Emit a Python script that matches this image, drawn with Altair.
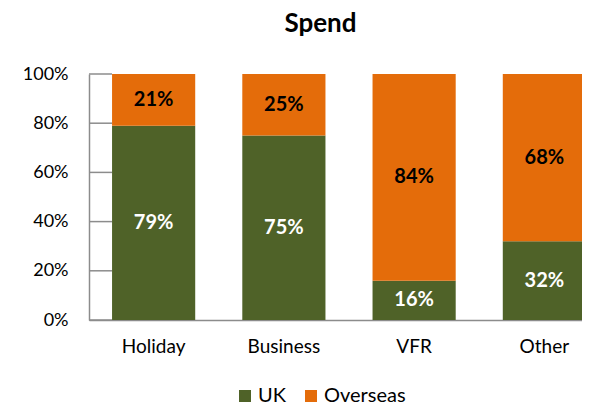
import altair as alt
import pandas as pd

categories = ["Holiday", "Business", "VFR", "Other"]
series_names = ["UK", "Overseas"]
uk_values = [79, 75, 16, 32]
overseas_values = [21, 25, 84, 68]
tick_values = [0, 20, 40, 60, 80, 100]

GREEN = "#4F6228"
ORANGE = "#E46C0A"
AXIS_GRAY = "#8C8C8C"
FONT = "Lato"

rows = []
for c, u, o in zip(categories, uk_values, overseas_values):
    rows.append({"category": c, "series": "UK", "value": u, "order": 0})
    rows.append({"category": c, "series": "Overseas", "value": o, "order": 1})
df = pd.DataFrame(rows)
ticks_df = pd.DataFrame({"t": tick_values})

x_scale = alt.Scale(domain=categories, range=[0, 520], paddingInner=0.3615, paddingOuter=0.177)
y_scale = alt.Scale(domain=[0, 100], nice=False)

base = alt.Chart(df).transform_stack(
    stack="value", as_=["y0", "y1"], groupby=["category"],
    sort=[alt.SortField("order", order="ascending")]
).transform_calculate(mid="(datum.y0 + datum.y1) / 2")

bars = base.mark_bar().encode(
    x=alt.X("category:N", sort=categories, scale=x_scale,
            axis=alt.Axis(title=None, ticks=False, tickSize=0, labelPadding=17,
                          labelFontSize=19, labelFont=FONT, labelColor="black",
                          labelAngle=0, domainColor=AXIS_GRAY, domainWidth=1.5)),
    y=alt.Y("y0:Q", scale=y_scale,
            axis=alt.Axis(title=None, values=tick_values, ticks=False, tickSize=0,
                          labelPadding=21, grid=False, labelExpr="datum.value + '%'",
                          labelFontSize=18, labelFont=FONT, labelColor="black",
                          domainColor=AXIS_GRAY, domainWidth=1.5)),
    y2="y1:Q",
    color=alt.Color("series:N", scale=alt.Scale(domain=series_names, range=[GREEN, ORANGE]),
                    legend=alt.Legend(title=None, orient="none", direction="horizontal",
                                      legendX=146, legendY=312, symbolType="square",
                                      symbolSize=144, symbolStrokeWidth=0, labelFontSize=20,
                                      labelFont=FONT, labelColor="black", columnPadding=15,
                                      labelOffset=3)),
)

labels = base.mark_text(fontSize=20, fontWeight="bold", font=FONT).encode(
    x=alt.X("category:N", sort=categories, scale=x_scale),
    y=alt.Y("mid:Q", scale=y_scale),
    text=alt.Text("label:N"),
    color=alt.condition(alt.datum.series == "UK", alt.value("white"), alt.value("black")),
).transform_calculate(label="datum.value + '%'")

tick_rules = alt.Chart(ticks_df).mark_rule(color=AXIS_GRAY, strokeWidth=1.5).encode(
    y=alt.Y("t:Q", scale=y_scale),
    x=alt.value(0),
    x2=alt.value(23),
)

chart = alt.layer(tick_rules, bars, labels).properties(
    width=493, height=246,
    title=alt.TitleParams("Spend", fontSize=26, fontWeight="bold", font=FONT,
                          anchor="middle", dx=-15, offset=28, color="black"),
    padding={"left": 81, "top": 66, "right": 0, "bottom": 87},
    autosize=alt.AutoSizeParams(type="none"),
).configure_view(stroke=None)

chart.save("out.html", embed_options={"renderer": "svg", "actions": False})
